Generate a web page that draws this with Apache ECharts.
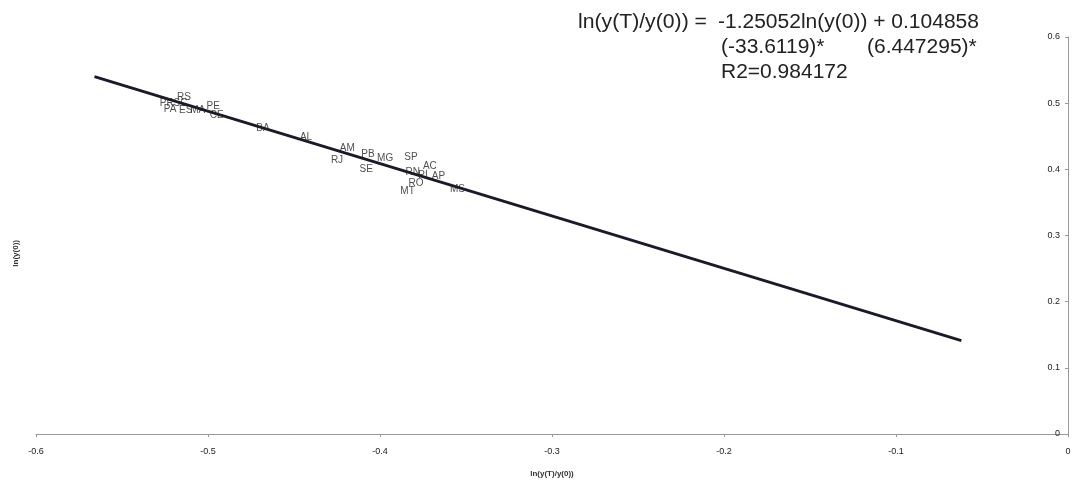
<!DOCTYPE html>
<html>
<head>
<meta charset="utf-8">
<script src="https://cdn.jsdelivr.net/npm/echarts@6/dist/echarts.min.js"></script>
<style>
  html, body { margin: 0; padding: 0; background: #fff; }
  #chart { width: 1075px; height: 481px; }
</style>
</head>
<body>
<div id="chart"></div>
<script>
// estados (rótulos dos pontos)
const states = ['RS', 'PR', 'SC', 'PA', 'ES', 'MA', 'PE', 'CE', 'BA', 'AL', 'AM', 'RJ',
  'PB', 'SE', 'MG', 'SP', 'AC', 'RN', 'PI', 'AP', 'RO', 'MT', 'MS'];
// ln(y(T)/y(0))
const growth = [-0.514, -0.524, -0.516, -0.522, -0.513, -0.506, -0.497, -0.495, -0.468,
  -0.443, -0.419, -0.425, -0.407, -0.408, -0.397, -0.382, -0.371, -0.381, -0.375, -0.366,
  -0.379, -0.384, -0.355];
// ln(y(0))
const initial = [0.509, 0.500, 0.500, 0.491, 0.490, 0.490, 0.496, 0.482, 0.462, 0.449,
  0.432, 0.413, 0.423, 0.400, 0.417, 0.419, 0.405, 0.396, 0.391, 0.390, 0.379, 0.367, 0.370];
// reta ajustada (extremos)
const fitX = [-0.566, -0.062];
const fitY = [0.540, 0.141];

const xTicks = ['-0.6', '-0.5', '-0.4', '-0.3', '-0.2', '-0.1', '0'];

const chart = echarts.init(document.getElementById('chart'));

const points = states.map((s, i) => ({ name: s, value: [growth[i], initial[i]] }));
const fitLine = fitX.map((x, i) => [x, fitY[i]]);

const font = 'Liberation Sans, Arial, sans-serif';
const eqStyle = t => ({ text: t, font: '20px ' + font, fill: '#222', textAlign: 'left', textVerticalAlign: 'middle' });

chart.setOption({
  animation: false,
  backgroundColor: '#fff',
  textStyle: { fontFamily: font },
  grid: { left: 36, right: 7, top: 37, bottom: 47, containLabel: false, outerBoundsMode: 'none' },
  xAxis: {
    type: 'value',
    min: -0.6,
    max: 0,
    interval: 0.1,
    name: 'ln(y(T)/y(0))',
    nameLocation: 'middle',
    nameGap: 36,
    nameTextStyle: { fontSize: 8, fontWeight: 'bold', color: '#333' },
    axisLine: { lineStyle: { color: '#999', width: 1 } },
    axisTick: { show: true, length: 3, lineStyle: { color: '#999' } },
    axisLabel: {
      fontSize: 9, color: '#222', margin: 13,
      formatter: v => xTicks[Math.round((v + 0.6) * 10)]
    },
    splitLine: { show: false }
  },
  yAxis: {
    type: 'value',
    position: 'right',
    min: 0,
    max: 0.6,
    interval: 0.1,
    axisLine: { show: true, onZero: false, lineStyle: { color: '#999', width: 1 } },
    axisTick: { show: true, inside: true, length: 3, lineStyle: { color: '#999' } },
    axisLabel: { inside: true, fontSize: 9, color: '#222', margin: 8 },
    splitLine: { show: false }
  },
  graphic: [
    {
      type: 'text', left: 12, top: 240, rotation: Math.PI / 2,
      style: { text: 'ln(y(0))', font: 'bold 8px ' + font, fill: '#333', textAlign: 'center', textVerticalAlign: 'middle' }
    },
    { type: 'text', x: 578, y: 22, scaleX: 1.06, style: eqStyle('ln(y(T)/y(0)) =') },
    { type: 'text', x: 718, y: 22, scaleX: 1.05, style: eqStyle('-1.25052ln(y(0)) + 0.104858') },
    { type: 'text', x: 721, y: 47, scaleX: 1.05, style: eqStyle('(-33.6119)*') },
    { type: 'text', x: 867, y: 47, scaleX: 1.05, style: eqStyle('(6.447295)*') },
    { type: 'text', x: 721, y: 72, scaleX: 1.05, style: eqStyle('R2=0.984172') }
  ],
  series: [
    {
      type: 'line',
      data: fitLine,
      showSymbol: false,
      symbol: 'none',
      lineStyle: { color: '#1a1a2a', width: 2.8 },
      z: 2
    },
    {
      type: 'scatter',
      data: points,
      symbolSize: 0,
      label: {
        show: true,
        position: 'inside',
        formatter: p => p.name,
        fontSize: 10,
        color: '#222',
        fontFamily: font
      },
      z: 3
    }
  ]
});
</script>
</body>
</html>
